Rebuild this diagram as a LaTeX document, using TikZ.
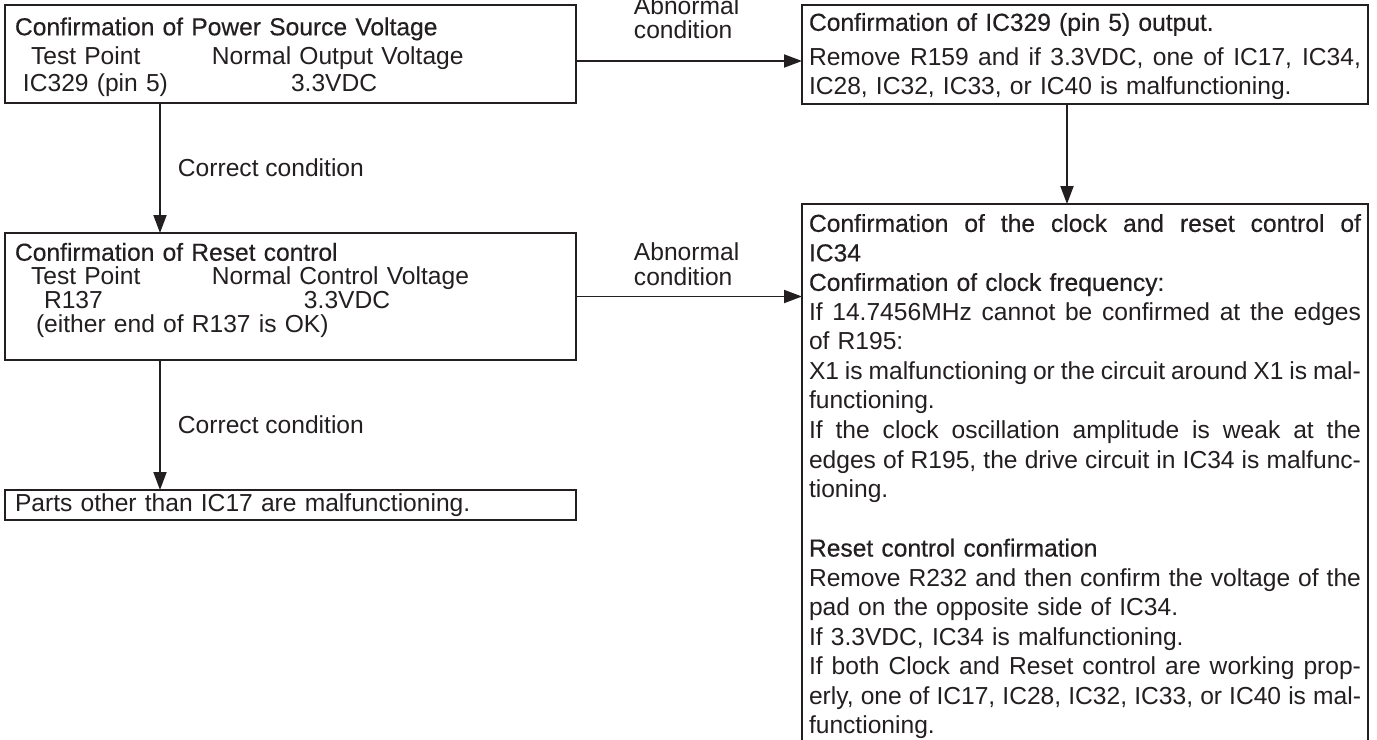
\documentclass[tikz,border=0pt]{standalone}
\usepackage{fontspec}
\setmainfont{Liberation Sans}
\newfontfamily\titlefont{Liberation Sans}[FakeBold=0.4]
\usetikzlibrary{arrows.meta,positioning}

\newlength\pxu
\setlength\pxu{0.02cm}
\definecolor{ink}{RGB}{35,31,32}
% one line of a box: justified / flush left / empty / two columns
\newcommand{\boxlines}[1]{\vbox{#1}}
\newcommand{\jline}[1]{\par\hbox to\hsize{\spaceskip=.278em plus .4em minus .12em #1}}
\newcommand{\lline}[1]{\par\hbox to\hsize{#1\hfil}}
\newcommand{\bline}{\par\hbox{}}
\newcommand{\tabline}[4]{\lline{\hspace*{#1\pxu}\makebox[\dimexpr#3\pxu-#1\pxu\relax][l]{#2}#4}}

\begin{document}
\begin{tikzpicture}[x=1\pxu,y=-1\pxu,
  box/.style={draw=ink,line width=1.3pt,text=ink,text width=552\pxu,
    inner xsep=7\pxu,inner ysep=4\pxu,outer sep=0pt,align=left,
    font=\fontsize{14pt}{15.4pt}\selectfont},
  lbl/.style={text=ink,inner sep=0pt,align=left,
    font=\fontsize{14pt}{14pt}\selectfont},
  arr/.style={draw=ink,line width=1.1pt,-{Triangle[length=0.36cm,width=0.26cm]}}]
  \path[use as bounding box,fill=white] (0,0) rectangle (1377,740);

  \node[box,anchor=north west,text width=551\pxu,inner xsep=10\pxu,
    minimum height=98\pxu] (power) at (5,5) {\boxlines{\vskip6\pxu
    \lline{\titlefont Confirmation of Power Source Voltage}\vskip2\pxu
    \tabline{16}{Test Point}{197}{Normal Output Voltage}
    \tabline{8}{IC329 (pin 5)}{276}{3.3VDC}}};
  \node[box,anchor=north west,minimum height=98\pxu]
    (output) [right=226\pxu of power.north east,anchor=north west] {\boxlines{\vskip4\pxu
    \lline{\titlefont Confirmation of IC329 (pin 5) output.}\vskip8\pxu
    \jline{Remove R159 and if 3.3VDC, one of IC17, IC34,}\vskip2\pxu
    \lline{IC28, IC32, IC33, or IC40 is malfunctioning.}}};
  \node[box,text width=551\pxu,inner xsep=10\pxu,minimum height=127\pxu,
    font=\fontsize{14pt}{13.7pt}\selectfont]
    (reset) [below=130\pxu of power.south west,anchor=north west] {\boxlines{%
    \lline{\titlefont Confirmation of Reset control}
    \tabline{16}{Test Point}{197}{Normal Control Voltage}
    \tabline{29}{R137}{289}{3.3VDC}
    \tabline{21}{(either end of R137 is OK)}{21}{}\vskip12\pxu}};
  \node[box,text width=551\pxu,inner xsep=10\pxu,inner ysep=3\pxu,minimum height=30\pxu]
    (parts) [below=130\pxu of reset.south west,anchor=north west] {\boxlines{%
    \lline{Parts other than IC17 are malfunctioning.}}};
  \node[box,inner ysep=10\pxu,font=\fontsize{14pt}{16.8pt}\selectfont]
    (clock) [below=100\pxu of output.south west,anchor=north west] {\boxlines{%
    \jline{\titlefont Confirmation of the clock and reset control of}
    \lline{\titlefont IC34}
    \lline{\titlefont Confirmation of clock frequency:}
    \jline{If 14.7456MHz cannot be confirmed at the edges}
    \lline{of R195:}
    \jline{X1 is malfunctioning or the circuit around X1 is mal-}
    \lline{functioning.}
    \jline{If the clock oscillation amplitude is weak at the}
    \jline{edges of R195, the drive circuit in IC34 is malfunc-}
    \lline{tioning.}
    \bline
    \lline{\titlefont Reset control confirmation}
    \jline{Remove R232 and then confirm the voltage of the}
    \lline{pad on the opposite side of IC34.}
    \lline{If 3.3VDC, IC34 is malfunctioning.}
    \jline{If both Clock and Reset control are working prop-}
    \jline{erly, one of IC17, IC28, IC32, IC33, or IC40 is mal-}
    \lline{functioning.}\vskip20\pxu}};

  \coordinate (colx) at (160,0);
  \coordinate (rowab) at (0,61);
  \coordinate (colb) at (1067,0);

  \path
    (power.south -| colx) edge[arr] node[lbl,anchor=west,xshift=0.34cm] {Correct condition} (reset.north -| colx)
    (reset.south -| colx) edge[arr] node[lbl,anchor=west,xshift=0.34cm] {Correct condition} (parts.north -| colx)
    (power.east |- rowab) edge[arr] node[lbl,pos=0,anchor=south west,xshift=1.14cm,yshift=0.42cm] {Abnormal\\condition} (output.west |- rowab)
    (reset.east) edge[arr] node[lbl,pos=0,anchor=south west,xshift=1.14cm,yshift=0.2cm] {Abnormal\\condition} (clock.west |- reset.east)
    (output.south -| colb) edge[arr] (clock.north -| colb);
\end{tikzpicture}
\end{document}
